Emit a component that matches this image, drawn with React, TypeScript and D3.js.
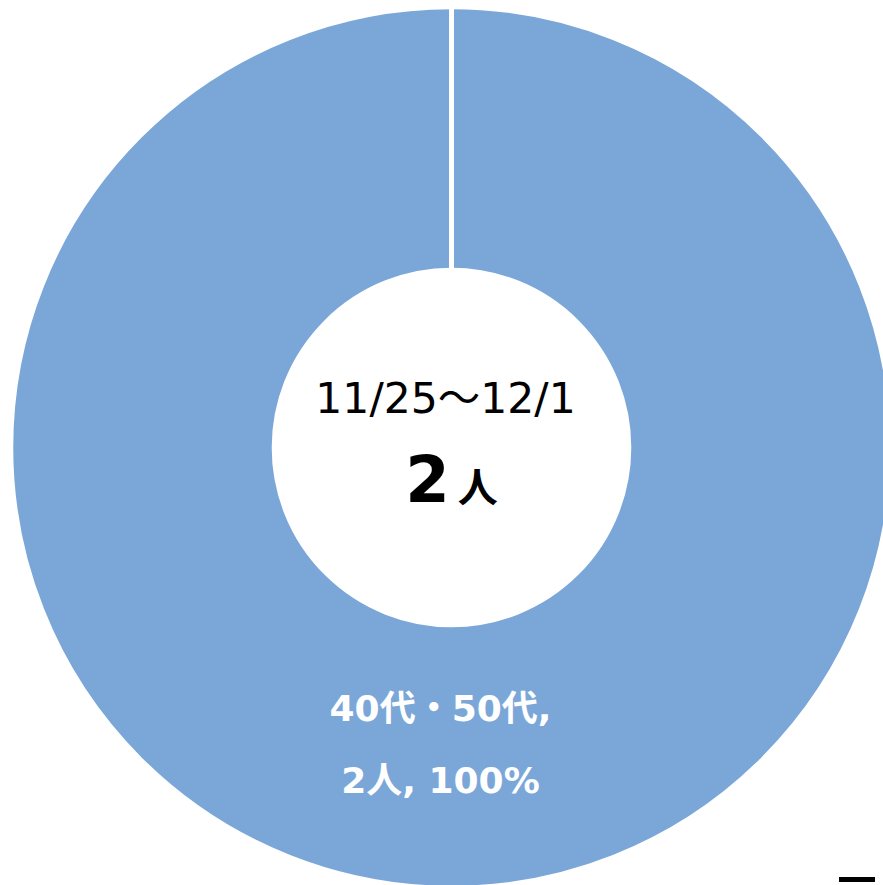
import React from "react";
import * as d3 from "d3";

const categories = ["40代・50代"];
const values = [2];
const percentLabels = ["100%"];
const periodLabel = "11/25～12/1";
const totalLabel = "2";
const unitLabel = "人";

const W = 883;
const H = 885;
const cx = 451.5;
const cy = 447.5;
const outerR = 440.5;
const innerR = 177.5;
const color = "#7BA7D8";

export default function App() {
  const pie = d3.pie<number>().sort(null).value((d) => d)(values);
  const arc = d3.arc<d3.PieArcDatum<number>>().innerRadius(innerR).outerRadius(outerR);
  const labelArc = d3
    .arc<d3.PieArcDatum<number>>()
    .innerRadius((innerR + outerR) / 2)
    .outerRadius((innerR + outerR) / 2);
  const total = d3.sum(values);

  return (
    <svg
      width={W}
      height={H}
      style={{ position: "fixed", left: 0, top: 0, background: "#fff" }}
    >
      <g transform={`translate(${cx},${cy})`}>
        {pie.map((p, i) => (
          <path key={i} d={arc(p) || ""} fill={color} stroke="#fff" strokeWidth={4.5} />
        ))}
        {pie.map((p, i) => {
          const a = p.startAngle;
          return (
            <line
              key={"s" + i}
              x1={Math.sin(a) * (innerR - 3)}
              y1={-Math.cos(a) * (innerR - 3)}
              x2={Math.sin(a) * (outerR + 3)}
              y2={-Math.cos(a) * (outerR + 3)}
              stroke="#fff"
              strokeWidth={5}
            />
          );
        })}
        {pie.map((p, i) => {
          const [lx, ly] = labelArc.centroid(p);
          return (
            <text
              key={"l" + i}
              fill="#fff"
              fontWeight="bold"
              fontSize={36}
              textAnchor="middle"
              fontFamily="'DejaVu Sans', 'Noto Sans CJK JP', sans-serif"
            >
              <tspan x={lx - 11} y={ly - 36}>{`${categories[i]},`}</tspan>
              <tspan x={lx - 11} y={ly + 36}>{`${values[i]}人, ${percentLabels[i]}`}</tspan>
            </text>
          );
        })}
        <text
          x={-6}
          y={-35}
          textAnchor="middle"
          fontSize={42.5}
          fill="#000"
          fontFamily="'DejaVu Sans', 'Noto Sans CJK JP', sans-serif"
        >
          {periodLabel}
        </text>
        <text
          x={0}
          y={54}
          textAnchor="middle"
          fill="#000"
          fontWeight="bold"
          fontFamily="'DejaVu Sans', 'Noto Sans CJK JP', sans-serif"
        >
          <tspan fontSize={64}>{total === values[0] ? totalLabel : String(total)}</tspan>
          <tspan fontSize={40} dx={8}>{unitLabel}</tspan>
        </text>
      </g>
      <rect x={839} y={877} width={36} height={5} fill="#000" />
    </svg>
  );
}
